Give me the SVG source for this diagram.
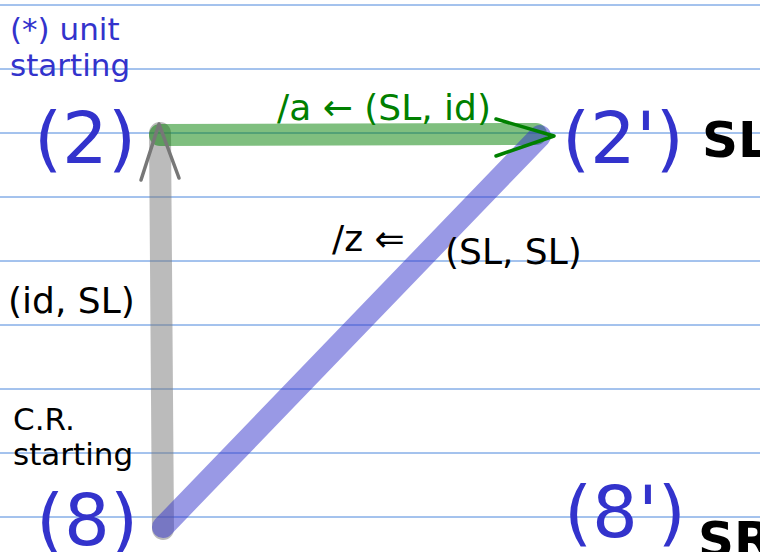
<svg xmlns="http://www.w3.org/2000/svg" width="760" height="552" viewBox="0 0 760 552">
<style>
.grid line{stroke:#4a86dc;stroke-width:1}
.node{font-family:"DejaVu Sans",sans-serif;font-size:72px;fill:#3333cc}
.bold{font-family:"DejaVu Sans",sans-serif;font-size:50px;font-weight:bold;fill:#000}
.lbl{font-family:"DejaVu Sans",sans-serif;font-size:36px;fill:#000}
.note{font-family:"DejaVu Sans",sans-serif;font-size:31px}
.edge{fill:none;stroke-linecap:round;stroke-opacity:0.5;stroke-width:22}
.head{fill:none;stroke-width:3.5;stroke-linecap:round;stroke-linejoin:round}
</style>
<rect width="760" height="552" fill="#fff"/>
<g class="grid">
<line x1="0" y1="5" x2="760" y2="5"/>
<line x1="0" y1="69" x2="760" y2="69"/>
<line x1="0" y1="133" x2="760" y2="133"/>
<line x1="0" y1="197" x2="760" y2="197"/>
<line x1="0" y1="261" x2="760" y2="261"/>
<line x1="0" y1="325" x2="760" y2="325"/>
<line x1="0" y1="389" x2="760" y2="389"/>
<line x1="0" y1="453" x2="760" y2="453"/>
<line x1="0" y1="517" x2="760" y2="517"/>
</g>
<g id="connectors">
<line class="edge" x1="160" y1="133" x2="163" y2="529" stroke="#777777"/>
<line class="edge" x1="160" y1="135" x2="536" y2="134" stroke="#008000"/>
<line class="edge" x1="540" y1="136" x2="163" y2="527" stroke="#3333cc"/>
<polyline class="head" points="141,180 159,124 179,178" stroke="#777777"/>
<polyline class="head" points="496,119 554,136 496,156" stroke="#008000"/>
<text class="lbl" x="277" y="120" style="fill:#008000">/a ← (SL, id)</text>
<text class="lbl" x="332" y="251">/z ⇐</text>
<text class="lbl" x="445" y="264">(SL, SL)</text>
<text class="lbl" x="8" y="313">(id, SL)</text>
</g>
<g id="node-2">
<text class="node" x="34" y="163">(2)</text>
<text class="note" x="10" y="40" fill="#3333cc">(*) unit</text>
<text class="note" x="10" y="76" fill="#3333cc">starting</text>
</g>
<g id="node-2p">
<text class="node" x="562" y="163">(2')</text>
<text class="bold" x="702" y="157">SL</text>
</g>
<g id="node-8">
<text class="node" x="36" y="545">(8)</text>
<text class="note" x="13" y="430" fill="#000">C.R.</text>
<text class="note" x="13" y="465" fill="#000">starting</text>
</g>
<g id="node-8p">
<text class="node" x="564" y="537">(8')</text>
<text class="bold" x="698" y="557">SR</text>
</g>
</svg>
